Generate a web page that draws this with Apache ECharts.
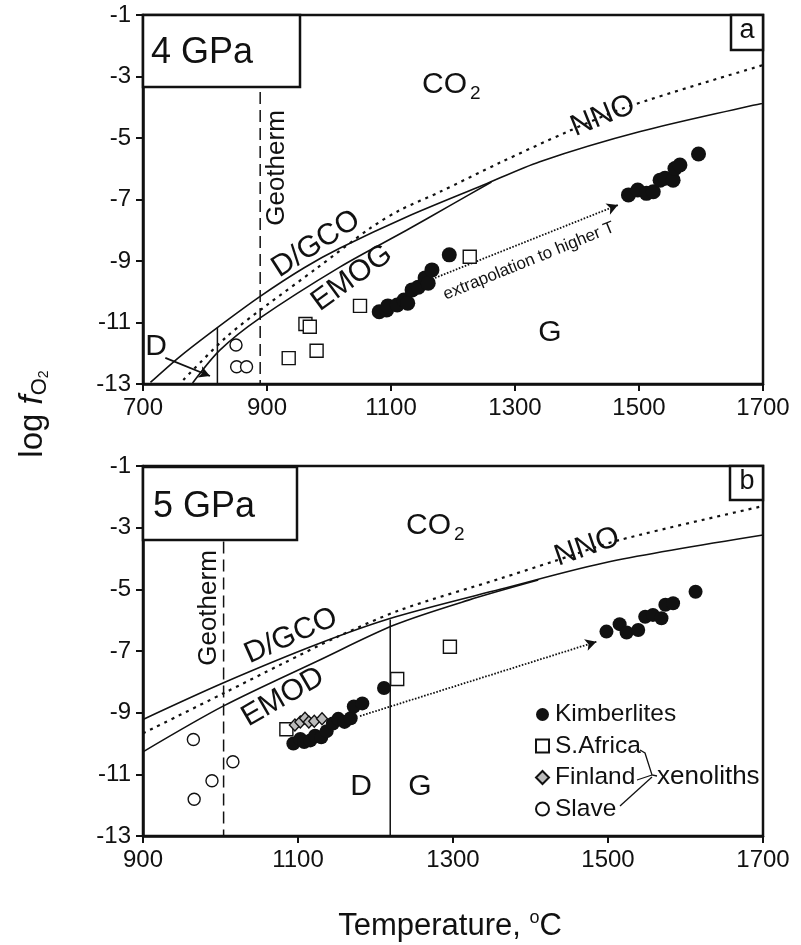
<!DOCTYPE html>
<html><head><meta charset="utf-8">
<script src="https://cdn.jsdelivr.net/npm/echarts@6/dist/echarts.min.js"></script>
<style>html,body{margin:0;padding:0;background:#fff}#c{width:801px;height:945px}</style>
</head><body><div id="c"></div>
<script>
// ---------------- data ----------------
const xTicksA = [700, 900, 1100, 1300, 1500, 1700];
const xTicksB = [900, 1100, 1300, 1500, 1700];
const yTicks = [-13, -11, -9, -7, -5, -3, -1];

// Panel a : 4 GPa
const nnoA = [[765,-12.87],[835,-11.46],[900,-10.43],[980,-9.24],[1066,-7.94],[1114,-7.35],[1179,-6.75],[1276,-5.8],[1384,-4.8],[1481,-3.99],[1700,-2.63]];
const dgcoA = [[712,-12.95],[760,-12.1],[821,-11.15],[889,-10.15],[960,-9.22],[1018,-8.58],[1125,-7.57],[1249,-6.53],[1340,-5.77],[1502,-4.79],[1700,-3.87]];
const emogA = [[780,-12.97],[824,-11.9],[889,-10.85],[1018,-9.19],[1125,-8.0],[1195,-7.2],[1262,-6.43]];
const dgBoundA = [[820,-11.17],[820,-13]];
const geothermA = [[889,-3.5],[889,-13]];
const extrapA = [[1171,-9.55],[1466,-7.18]];
const dArrowA = [[736,-12.15],[808,-12.74]];
const slaveA = [[850,-11.73],[851,-12.44],[867,-12.44]];
const safricaA = [[935,-12.16],[962,-11.05],[969,-11.14],[980,-11.92],[1050,-10.46],[1227,-8.86]];
const kimbA = [[1081,-10.65],[1093,-10.59],[1095,-10.46],[1110,-10.43],[1121,-10.27],[1127,-10.37],[1134,-9.94],[1144,-9.85],[1155,-9.55],[1160,-9.72],[1166,-9.29],[1194,-8.8],
  [1483,-6.85],[1498,-6.69],[1512,-6.8],[1523,-6.75],[1534,-6.37],[1542,-6.31],[1555,-6.37],[1558,-5.99],[1566,-5.88],[1596,-5.52]];

// Panel b : 5 GPa
const nnoB = [[900,-9.67],[1004,-8.37],[1081,-7.4],[1150,-6.55],[1232,-5.67],[1361,-4.65],[1429,-4.1],[1515,-3.4],[1700,-2.3]];
const dgcoB = [[900,-9.22],[1004,-8.03],[1128,-6.75],[1225,-5.9],[1361,-5.0],[1503,-4.1],[1700,-3.24]];
const emodB = [[900,-10.27],[1004,-8.78],[1128,-7.29],[1225,-6.15],[1320,-5.35],[1410,-4.7]];
const dgBoundB = [[1219,-5.98],[1219,-13]];
const geothermB = [[1004,-3.45],[1004,-13]];
const extrapB = [[1180,-9.11],[1485,-6.7]];
const slaveB = [[965,-9.87],[1016,-10.59],[989,-11.21],[966,-11.81]];
const safricaB = [[1085,-9.54],[1228,-7.91],[1296,-6.86]];
const finlandB = [[1096,-9.4],[1103,-9.3],[1109,-9.18],[1114,-9.3],[1121,-9.28],[1131,-9.2]];
const kimbB = [[1094,-10.0],[1103,-9.85],[1108,-9.95],[1116,-9.9],[1122,-9.75],[1130,-9.8],[1137,-9.6],[1145,-9.35],[1152,-9.2],[1160,-9.3],[1168,-9.18],[1172,-8.8],[1183,-8.7],[1211,-8.2],
  [1498,-6.37],[1515,-6.13],[1524,-6.4],[1539,-6.32],[1548,-5.89],[1558,-5.83],[1569,-5.94],[1574,-5.5],[1584,-5.45],[1613,-5.08]];

// ---------------- chart ----------------
const FF = '"Liberation Sans", Arial, sans-serif';
const INK = '#111';
const chart = echarts.init(document.getElementById('c'), null, {renderer: 'canvas'});

function xAx(gi, min, ticks) {
  return {gridIndex: gi, type: 'value', min: min, max: 1700,
    axisLine: {show: true, onZero: false, lineStyle: {color: INK, width: 2.5}},
    axisTick: {show: true, length: 7, lineStyle: {color: INK, width: 2}, customValues: ticks},
    axisLabel: {customValues: ticks, fontSize: 24, color: INK, fontFamily: FF, margin: 12, formatter: v => String(v)},
    splitLine: {show: false}};
}
function yAx(gi) {
  return {gridIndex: gi, type: 'value', min: -13, max: -1,
    axisLine: {show: true, onZero: false, lineStyle: {color: INK, width: 2.5}},
    axisTick: {show: true, length: 7, lineStyle: {color: INK, width: 2}, customValues: yTicks},
    axisLabel: {customValues: yTicks, fontSize: 24, color: INK, fontFamily: FF, margin: 12, formatter: v => String(v)},
    splitLine: {show: false}};
}
function line(gi, data, type, width, extra) {
  return Object.assign({type: 'line', xAxisIndex: gi, yAxisIndex: gi, data: data, showSymbol: false, symbol: 'none',
    silent: true, smooth: 0.3, z: 3,
    lineStyle: {color: INK, width: width, type: type}}, extra || {});
}
function arrow(gi, data, type, width) {
  return {type: 'line', xAxisIndex: gi, yAxisIndex: gi, data: data, showSymbol: false, symbol: 'none', silent: true,
    lineStyle: {opacity: 0},
    markLine: {silent: true, symbol: ['none', 'arrow'], symbolSize: [9, 11], animation: false,
      label: {show: false}, emphasis: {disabled: true},
      lineStyle: {color: INK, width: width, type: type},
      data: [[{coord: data[0]}, {coord: data[1]}]]}};
}
function scat(gi, name, data, symbol, size, fill, z) {
  return {type: 'scatter', name: name, xAxisIndex: gi, yAxisIndex: gi, data: data, symbol: symbol, symbolSize: size,
    z: z || 5, itemStyle: {color: fill, borderColor: INK, borderWidth: fill === INK ? 0 : 1.4, opacity: 1}};
}

const dotted = [3, 5];
const series = [
  // panel a
  line(0, nnoA, dotted, 2.2),
  line(0, dgcoA, 'solid', 1.6),
  line(0, emogA, 'solid', 1.6),
  line(0, dgBoundA, 'solid', 1.5, {smooth: false}),
  line(0, geothermA, [12, 6], 1.5, {smooth: false}),
  arrow(0, extrapA, [1.6, 1.6], 1.8),
  arrow(0, dArrowA, 'solid', 1.8),
  scat(0, 'S.Africa', safricaA, 'rect', 13, '#fff', 5),
  scat(0, 'Slave', slaveA, 'circle', 12, '#fff', 5),
  scat(0, 'Kimberlites', kimbA, 'circle', 15, INK, 6),
  // panel b
  line(1, nnoB, dotted, 2.2),
  line(1, dgcoB, 'solid', 1.6),
  line(1, emodB, 'solid', 1.6),
  line(1, dgBoundB, 'solid', 1.5, {smooth: false}),
  line(1, geothermB, [12, 6], 1.5, {smooth: false}),
  arrow(1, extrapB, [1.6, 1.6], 1.8),
  scat(1, 'S.Africa', safricaB, 'rect', 13, '#fff', 5),
  scat(1, 'Slave', slaveB, 'circle', 12, '#fff', 5),
  scat(1, 'Kimberlites', kimbB, 'circle', 14, INK, 6),
  scat(1, 'Finland', finlandB, 'diamond', [11, 12], '#bbb', 7)
];

function txt(x, y, text, size, rot, align) {
  return {type: 'text', x: x, y: y, rotation: (rot || 0) * Math.PI / 180, z: 100,
    style: {text: text, fontSize: size, fontFamily: FF, fill: INK, align: align || 'center', verticalAlign: 'middle'}};
}
function box(x, y, w, h) {
  return {type: 'rect', shape: {x: x, y: y, width: w, height: h}, z: 90,
    style: {fill: '#fff', stroke: INK, lineWidth: 2.5}};
}
function pl(points, w) {
  return {type: 'polyline', shape: {points: points}, z: 100, style: {stroke: INK, lineWidth: w || 1.3, fill: null}};
}
const coRich = {n: {fontSize: 30, fontFamily: FF, fill: INK}, s: {fontSize: 19, fontFamily: FF, fill: INK, padding: [18, 0, 0, 3]}};

const graphic = [
  // panel a
  box(143, 15, 157, 72), txt(151, 53, '4 GPa', 36, 0, 'left'),
  box(731, 15, 32, 35), txt(747, 31, 'a', 27),
  {type: 'text', x: 422, y: 85, z: 100, style: {text: '{n|CO}{s|2}', rich: coRich, align: 'left', verticalAlign: 'middle'}},
  txt(603, 116, 'NNO', 30, 22),
  txt(316, 244, 'D/GCO', 30, 33),
  txt(352, 278, 'EMOG', 30, 36),
  txt(277, 168, 'Geotherm', 26, 90),
  txt(550, 333, 'G', 30),
  txt(156, 347, 'D', 30),
  txt(529, 261, 'extrapolation to higher T', 17, 22),
  // panel b
  box(143, 467, 154, 73), txt(153, 507, '5 GPa', 36, 0, 'left'),
  box(730, 466, 33, 34), txt(747, 482, 'b', 27),
  {type: 'text', x: 406, y: 526, z: 100, style: {text: '{n|CO}{s|2}', rich: coRich, align: 'left', verticalAlign: 'middle'}},
  txt(587, 547, 'NNO', 30, 19),
  txt(291, 636, 'D/GCO', 30, 24),
  txt(283, 697, 'EMOD', 30, 30),
  txt(209, 608, 'Geotherm', 26, 90),
  txt(361, 787, 'D', 30),
  txt(420, 787, 'G', 30),
  // legend bracket
  pl([[640, 750], [645, 753], [652, 775], [657, 776]]),
  pl([[637, 780], [652, 775]]),
  pl([[620, 806], [652, 777]]),
  txt(657, 777, 'xenoliths', 26, 0, 'left'),
  // axis titles
  {type: 'text', x: 33, y: 414, rotation: Math.PI / 2, z: 100, style: {text: '{a|log }{i|f}{s|O}{t|2}', align: 'center', verticalAlign: 'middle',
    rich: {a: {fontSize: 33, fontFamily: FF, fill: INK},
           i: {fontSize: 33, fontFamily: FF, fontStyle: 'italic', fill: INK},
           s: {fontSize: 22, fontFamily: FF, fill: INK, padding: [14, 0, 0, 0]},
           t: {fontSize: 14, fontFamily: FF, fill: INK, padding: [22, 0, 0, 0]}}}},
  {type: 'text', x: 450, y: 926, z: 100, style: {text: '{a|Temperature, }{o|o}{a|C}', align: 'center', verticalAlign: 'middle',
    rich: {a: {fontSize: 31, fontFamily: FF, fill: INK}, o: {fontSize: 18, fontFamily: FF, fill: INK, padding: [0, 0, 16, 0]}}}}
];

chart.setOption({
  animation: false,
  backgroundColor: '#fff',
  grid: [
    {left: 143, top: 15, width: 620, height: 369, show: true, borderColor: INK, borderWidth: 2.5, backgroundColor: 'transparent'},
    {left: 143, top: 466, width: 620, height: 370, show: true, borderColor: INK, borderWidth: 2.5, backgroundColor: 'transparent'}
  ],
  xAxis: [xAx(0, 700, xTicksA), xAx(1, 900, xTicksB)],
  yAxis: [yAx(0), yAx(1)],
  legend: {show: true, orient: 'vertical', left: 530, top: 697, itemWidth: 13, itemHeight: 13, itemGap: 6.5,
    selectedMode: false, data: ['Kimberlites', 'S.Africa', 'Finland', 'Slave'],
    textStyle: {fontSize: 24.5, fontFamily: FF, color: INK, lineHeight: 24, padding: [0, 0, 0, 1]}},
  series: series,
  graphic: graphic
});
</script></body></html>
